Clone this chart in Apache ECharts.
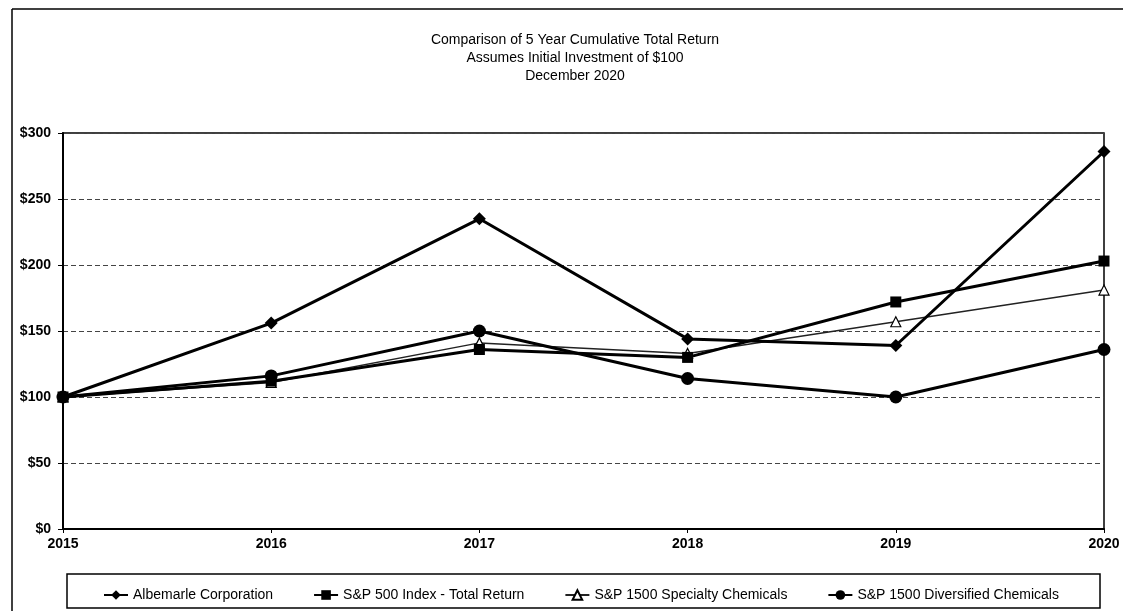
<!DOCTYPE html>
<html>
<head>
<meta charset="utf-8">
<script src="https://cdn.jsdelivr.net/npm/echarts@6/dist/echarts.min.js"></script>
<style>
  html, body { margin: 0; padding: 0; background: #fff; }
  #chart { width: 1123px; height: 611px; }
</style>
</head>
<body>
<div id="chart"></div>
<script>
const years = ["2015", "2016", "2017", "2018", "2019", "2020"];
const albemarle = [100, 156, 235, 144, 139, 286];
const sp500 = [100, 112, 136, 130, 172, 203];
const specialty = [100, 111, 141, 133, 157, 181];
const diversified = [100, 116, 150, 114, 100, 136];

const font = "Liberation Sans, Arial, sans-serif";

const chart = echarts.init(document.getElementById("chart"));

chart.setOption({
  animation: false,
  backgroundColor: "#fff",
  title: {
    text: "Comparison of 5 Year Cumulative Total Return\nAssumes Initial Investment of $100\nDecember 2020",
    left: 575,
    top: 31,
    padding: 0,
    textAlign: "center",
    textStyle: {
      fontFamily: font,
      fontSize: 14,
      fontWeight: "normal",
      lineHeight: 18,
      color: "#000",
    },
  },
  legend: {
    left: 98,
    top: 583,
    itemGap: 40,
    itemWidth: 24,
    itemHeight: 12,
    textStyle: { fontFamily: font, fontSize: 14, color: "#000" },
    data: [
      "Albemarle Corporation",
      "S&P 500 Index - Total Return",
      "S&P 1500 Specialty Chemicals",
      "S&P 1500 Diversified Chemicals",
    ],
  },
  grid: {
    left: 63,
    right: 19,
    top: 133,
    bottom: 82,
    show: true,
    borderColor: "#000",
    borderWidth: 1.5,
  },
  xAxis: {
    type: "category",
    data: years,
    boundaryGap: false,
    axisLine: { lineStyle: { color: "#000", width: 2 } },
    axisTick: { length: 4, lineStyle: { color: "#000" } },
    axisLabel: {
      fontFamily: font,
      fontSize: 14,
      fontWeight: "bold",
      color: "#000",
      margin: 8,
    },
  },
  yAxis: {
    type: "value",
    min: 0,
    max: 300,
    interval: 50,
    axisLine: { show: true, lineStyle: { color: "#000", width: 2 } },
    axisTick: { show: true, length: 5, lineStyle: { color: "#000" } },
    axisLabel: {
      fontFamily: font,
      fontSize: 14,
      fontWeight: "bold",
      color: "#000",
      margin: 12,
      formatter: "${value}",
    },
    splitLine: {
      lineStyle: { color: "#444", width: 1, type: [5, 3] },
    },
  },
  graphic: [
    { type: "line", shape: { x1: 12, y1: 9, x2: 1123, y2: 9 }, style: { stroke: "#000", lineWidth: 1.5 } },
    { type: "line", shape: { x1: 12, y1: 9, x2: 12, y2: 611 }, style: { stroke: "#000", lineWidth: 1.5 } },
    { type: "rect", shape: { x: 67, y: 574, width: 1033, height: 34 }, style: { fill: "none", stroke: "#000", lineWidth: 1.5 } },
  ],
  series: [
    {
      name: "Albemarle Corporation",
      type: "line",
      data: albemarle,
      symbol: "diamond",
      symbolSize: 13,
      lineStyle: { color: "#000", width: 3 },
      itemStyle: { color: "#000" },
      z: 5,
    },
    {
      name: "S&P 500 Index - Total Return",
      type: "line",
      data: sp500,
      symbol: "rect",
      symbolSize: 11,
      lineStyle: { color: "#000", width: 3 },
      itemStyle: { color: "#000" },
      z: 4,
    },
    {
      name: "S&P 1500 Specialty Chemicals",
      type: "line",
      data: specialty,
      symbol: "triangle",
      symbolSize: 10,
      lineStyle: { color: "#222", width: 1.5 },
      itemStyle: { color: "#fff", borderColor: "#000", borderWidth: 1.2 },
      z: 3,
    },
    {
      name: "S&P 1500 Diversified Chemicals",
      type: "line",
      data: diversified,
      symbol: "circle",
      symbolSize: 13,
      lineStyle: { color: "#000", width: 3 },
      itemStyle: { color: "#000" },
      z: 6,
    },
  ],
});
</script>
</body>
</html>
